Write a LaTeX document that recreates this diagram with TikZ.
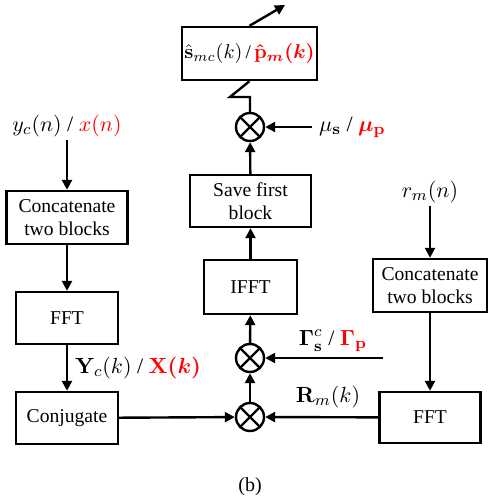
\documentclass[tikz,border=0pt]{standalone}
\usepackage{amsmath}
\usepackage[no-math]{fontspec}
\setmainfont{Liberation Serif}
\usetikzlibrary{arrows.meta}

\begin{document}
\begin{tikzpicture}[x=0.5pt,y=-0.5pt,
    line width=1.2pt,
    >={Triangle[length=5pt,width=5pt]},
    blk/.style={draw, rectangle, align=center, inner sep=0pt,
      font=\fontsize{9.8}{11.5}\selectfont},
    mult/.style={draw, circle, minimum size=14pt, inner sep=0pt,
      path picture={\draw[line width=1.1pt]
        (path picture bounding box.center) +(-6pt,-6pt) -- +(6pt,6pt)
        (path picture bounding box.center) +(-6pt,6pt) -- +(6pt,-6pt);}},
    lbl/.style={inner sep=1pt, font=\fontsize{11}{13}\selectfont}]
    \useasboundingbox (0,0) rectangle (488,504);
    % left branch
    \node[lbl] (yc) at (67,126) {$y_c(n)$ / \textcolor{red}{$x(n)$}};
    \node[blk, minimum width=60.5pt, minimum height=26.5pt] (cat1) at (67,217.5) {Concatenate\\two blocks};
    \node[blk, minimum width=51pt, minimum height=26pt] (fft1) at (67,318) {FFT};
    \node[blk, minimum width=51pt, minimum height=26pt] (conj) at (67,418) {Conjugate};
    \node[lbl] (yk) at (138,368) {$\mathbf{Y}_c(k)$ / \textcolor{red}{\boldmath$\mathbf{X}(k)$}};
    % middle branch
    \node[mult] (m1) at (250,417) {};
    \node[mult] (m2) at (250,358) {};
    \node[blk, minimum width=46.5pt, minimum height=27pt] (ifft) at (250.5,287) {IFFT};
    \node[blk, minimum width=60.5pt, minimum height=26pt] (save) at (250.5,201) {Save first\\block};
    \node[mult] (m3) at (250,127) {};
    \node[blk, minimum width=67.5pt, minimum height=26.5pt, font=\fontsize{9.6}{11}\selectfont] (out) at (249.5,53.5)
      {$\hat{\mathbf{s}}_{mc}(k)$\,/\,\textcolor{red}{\boldmath$\hat{\mathbf{p}}_m(k)$}};
    \coordinate (sw1) at (250,97);
    \coordinate (sw2) at (230,97);
    \coordinate (outend) at (285,5);
    \coordinate (muin) at (312,127);
    \node[lbl, anchor=west] (mu) at (316,127) {$\mu_{\mathbf{s}}$ / \textcolor{red}{\boldmath$\mu_{\mathbf{p}}$}};
    \coordinate (gin) at (383,358);
    \node[lbl] (gam) at (333,341) {$\boldsymbol{\Gamma}^c_{\mathbf{s}}$ / \textcolor{red}{\boldmath$\boldsymbol{\Gamma}_{\mathbf{p}}$}};
    \node[lbl] (rk) at (328,397) {$\mathbf{R}_m(k)$};
    % right branch
    \node[lbl] (rm) at (430,192) {$r_m(n)$};
    \node[blk, minimum width=57pt, minimum height=26.5pt] (cat2) at (430,285.5) {Concatenate\\two blocks};
    \node[blk, minimum width=50.5pt, minimum height=25.5pt] (fft2) at (430,417.5) {FFT};
    \node (cap) at (250,487) {(b)};
    % connectors
    \draw[->] (yc) -- (cat1);
    \draw[->] (cat1) -- (fft1);
    \draw[->] (fft1) -- (conj);
    \draw[->] (conj) -- (m1);
    \draw[->] (fft2) -- (m1);
    \draw[->] (m1) -- (m2);
    \draw[->] (gin) -- (m2);
    \draw[->] (m2) -- (ifft);
    \draw[->] (ifft) -- (save);
    \draw[->] (save) -- (m3);
    \draw[->] (muin) -- (m3);
    \draw (m3) -- (sw1) -- (sw2) -- (out.south);
    \draw[->] (out.north) -- (outend);
    \draw[->] (rm) -- (cat2);
    \draw[->] (cat2) -- (fft2);
\end{tikzpicture}
\end{document}
